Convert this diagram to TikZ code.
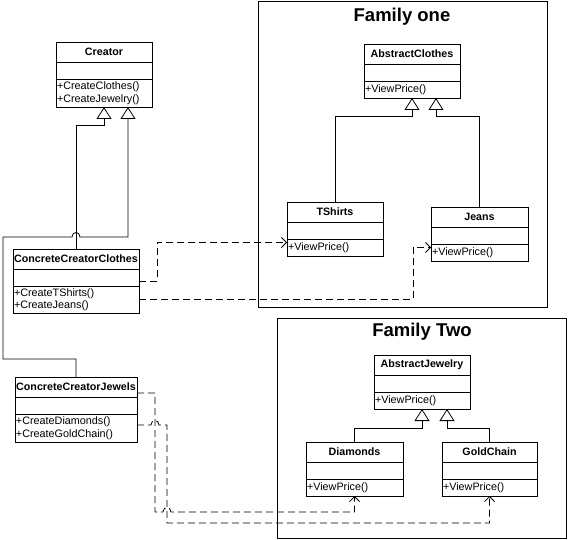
\documentclass[tikz,border=0pt]{standalone}
\usepackage{fontspec}
\setmainfont{Liberation Sans}
\usetikzlibrary{arrows.meta,calc}

\begin{document}
\begin{tikzpicture}[x=1pt,y=-1pt,line width=0.8pt,
    box/.style={draw,rectangle,inner sep=1pt,outer sep=0pt,anchor=north,font=\fontsize{10.8}{12.5}\selectfont},
    ctitle/.style={box,font=\fontsize{10.7}{12.5}\selectfont\bfseries,minimum height=20pt},
    cattr/.style={box,minimum height=17pt},
    cmeth/.style={box,align=left},
    gen/.style={-{Triangle[open,length=12pt,width=15pt]}},
    dep/.style={dash pattern=on 7pt off 4pt,-{Straight Barb[length=5pt,width=10pt]}},
    famtitle/.style={font=\fontsize{18.5}{20}\selectfont\bfseries}]
    \useasboundingbox (0,0) rectangle (568,540);
    % klasse: naam, linksboven, breedte, titel, methoden, hoogte methoden
    \def\umlclass#1#2#3#4#5#6{%
        \node[ctitle,minimum width=#3pt,anchor=north west] (#1) at #2 {#4};
        \node[cattr,minimum width=#3pt] (#1-a) at (#1.south) {};
        \node[cmeth,minimum width=#3pt,text width=#3pt-2pt,minimum height=#6pt] (#1-m) at (#1-a.south) {#5};}
    % families
    \draw (258,1) rectangle (547,307);
    \node[famtitle] (famone) at (402,17) {Family one};
    \draw (277,318) rectangle (566,538);
    \node[famtitle] (famtwo) at (422,332) {Family Two};
    % creators
    \umlclass{creator}{(56,42)}{96}{Creator}{+CreateClothes()\\+CreateJewelry()}{28}
    \umlclass{cc}{(13,249)}{126}{ConcreteCreatorClothes}{+CreateTShirts()\\+CreateJeans()}{27}
    \umlclass{cj}{(15,377)}{122}{ConcreteCreatorJewels}{+CreateDiamonds()\\+CreateGoldChain()}{28}
    % producten
    \umlclass{ac}{(364,44)}{96}{AbstractClothes}{+ViewPrice()}{17}
    \umlclass{ts}{(287,202)}{96}{TShirts}{+ViewPrice()}{17}
    \umlclass{je}{(431,207)}{97}{Jeans}{+ViewPrice()}{17}
    \umlclass{aj}{(374,355)}{96}{AbstractJewelry}{+ViewPrice()}{17}
    \umlclass{di}{(306,442)}{97}{Diamonds}{+ViewPrice()}{17}
    \umlclass{gc}{(442,442)}{95}{GoldChain}{+ViewPrice()}{17}
    % overerving
    \draw[gen] (cc.north) |- ($(creator-m.south)+(0,18)$) -- (creator-m.south);
    \coordinate (hop) at (cc.north |- 0,237);
    \draw[gen] (cj.north) -- ++(0,-18) -| (3,237) -- ($(hop)+(-4,0)$)
        .. controls +(0,-6) and +(0,-6) .. ($(hop)+(4,0)$) -| ($(creator-m.south)+(24,0)$);
    \draw[gen] (ts.north) |- ($(ac-m.south)+(0,18)$) -- (ac-m.south);
    \draw[gen] (je.north) |- ($(ac-m.south)+(24,18)$) -- ++(0,-18);
    \draw[gen] (di.north) |- ($(aj-m.south)+(0,19)$) -- (aj-m.south);
    \draw[gen] (gc.north) |- ($(aj-m.south)+(25,19)$) -- ++(0,-19);
    % afhankelijkheden
    \draw[dep] ([yshift=-4pt]cc-a.east) -- ++(18,0) |- ([yshift=5pt]ts-m.west);
    \draw[dep] (cc-m.east) -| ([xshift=-18pt,yshift=5pt]je-m.west) -- ([yshift=5pt]je-m.west);
    \coordinate (ja) at (155,512);
    \coordinate (jb) at (167,523);
    \draw[dep] ([yshift=-6pt]cj.east) -| (ja) -- ($(ja -| jb)+(-4,0)$)
        .. controls +(0,-6) and +(0,-6) .. ($(ja -| jb)+(4,0)$) -| (di-m.south);
    \draw[dep] ([yshift=3pt]cj-m.east) -- ($(cj-m.east -| ja)+(-4,-3)$)
        .. controls +(0,-6) and +(0,-6) .. ($(cj-m.east -| ja)+(4,-3)$) -| (jb) -| (gc-m.south);
\end{tikzpicture}
\end{document}
